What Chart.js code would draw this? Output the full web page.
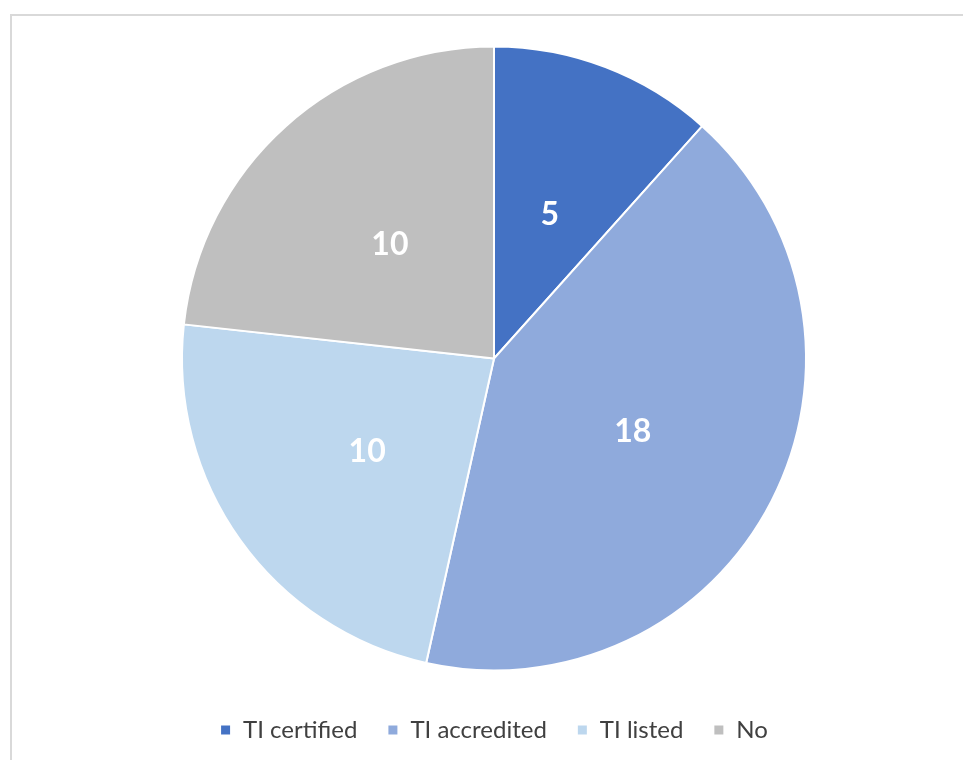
<!DOCTYPE html>
<html>
<head>
<meta charset="utf-8">
<script src="https://cdn.jsdelivr.net/npm/chart.js@4"></script>
<style>
  html, body { margin: 0; padding: 0; background: #fff; overflow: hidden; }
  body { width: 963px; height: 760px; position: relative; }
  #frame {
    position: absolute; left: 10px; top: 14px; width: 1000px; height: 1000px;
    border: 2px solid #d9d9d9; box-sizing: border-box;
  }
  #wrap { position: absolute; left: 12px; top: 16px; width: 964px; height: 745px; }
</style>
</head>
<body>
<div id="frame"></div>
<div id="wrap"><canvas id="chart"></canvas></div>
<script>
// categories and values
const labels = ['TI certified', 'TI accredited', 'TI listed', 'No'];
const counts = [5, 18, 10, 10];
const sliceColors = ['#4472C4', '#8FAADC', '#BDD7EE', '#BFBFBF'];

// draws the number in the middle of each slice
const sliceLabels = {
  id: 'sliceLabels',
  afterDatasetsDraw(chart) {
    const ctx = chart.ctx;
    const meta = chart.getDatasetMeta(0);
    ctx.save();
    ctx.fillStyle = '#ffffff';
    ctx.font = 'bold 32px Lato';
    ctx.textAlign = 'center';
    ctx.textBaseline = 'middle';
    meta.data.forEach((arc, i) => {
      const p = arc.tooltipPosition();
      ctx.fillText(String(chart.data.datasets[0].data[i]), p.x, p.y + 2);
    });
    ctx.restore();
  }
};

new Chart(document.getElementById('chart'), {
  type: 'pie',
  plugins: [sliceLabels],
  data: {
    labels: labels,
    datasets: [{
      data: counts,
      backgroundColor: sliceColors,
      borderColor: '#ffffff',
      borderWidth: 2
    }]
  },
  options: {
    responsive: true,
    maintainAspectRatio: false,
    animation: false,
    radius: 312,
    layout: { padding: { top: 13, bottom: 9 } },
    plugins: {
      tooltip: { enabled: false },
      legend: {
        position: 'bottom',
        labels: {
          boxWidth: 11,
          boxHeight: 11,
          padding: 30,
          color: '#404040',
          font: { family: 'Lato', size: 24 }
        }
      }
    }
  }
});
</script>
</body>
</html>
